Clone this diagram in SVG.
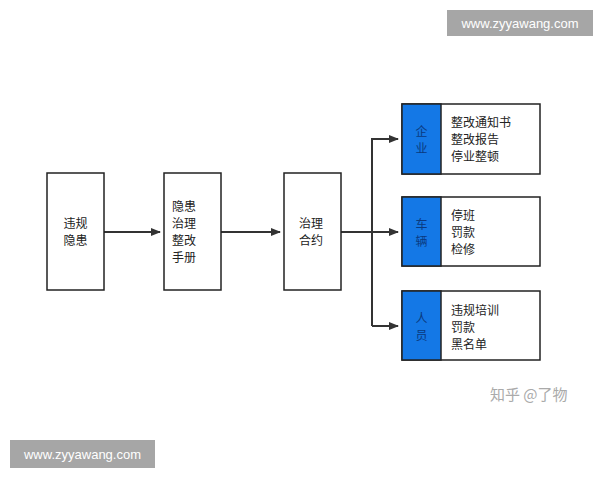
<svg xmlns="http://www.w3.org/2000/svg" width="600" height="480" viewBox="0 0 600 480">
<style>
.box{fill:#fff;stroke:#222;stroke-width:1.5}
.blue{fill:#1478e6;stroke:#222;stroke-width:1.5}
.t{font-family:"Noto Sans CJK SC",sans-serif;font-size:12px;fill:#222}
.bt{font-family:"Noto Sans CJK SC",sans-serif;font-size:12px;fill:#0a3a80}
.c{stroke:#333;stroke-width:2;fill:none}
.wm{font-family:"Liberation Sans",sans-serif;font-size:13px;fill:#fff}
</style>
<defs><marker id="a" markerWidth="10" markerHeight="8" refX="9" refY="4" orient="auto" markerUnits="userSpaceOnUse"><path d="M0,0L10,4L0,8z" fill="#333"/></marker></defs>
<rect width="600" height="480" fill="#fff"/>
<g id="connectors">
<path class="c" d="M104,232H160" marker-end="url(#a)"/>
<path class="c" d="M221,232H280" marker-end="url(#a)"/>
<path class="c" d="M341,232H398" marker-end="url(#a)"/>
<path class="c" d="M372,326V139H398" marker-end="url(#a)"/>
<path class="c" d="M372,326H398" marker-end="url(#a)"/>
</g>
<g id="n1"><rect class="box" x="47" y="173" width="57" height="117"/><text class="t" x="75.5" y="228" text-anchor="middle">违规</text><text class="t" x="75.5" y="245" text-anchor="middle">隐患</text></g>
<g id="n2"><rect class="box" x="164" y="173" width="57" height="117"/><text class="t" x="172" y="211">隐患</text><text class="t" x="172" y="228">治理</text><text class="t" x="172" y="245">整改</text><text class="t" x="172" y="262">手册</text></g>
<g id="n3"><rect class="box" x="284" y="173" width="57" height="117"/><text class="t" x="299" y="228">治理</text><text class="t" x="299" y="245">合约</text></g>
<g id="n4"><rect class="box" x="402" y="104" width="138" height="70"/><rect class="blue" x="402" y="104" width="39" height="70"/><text class="bt" x="421.5" y="136" text-anchor="middle">企</text><text class="bt" x="421.5" y="153" text-anchor="middle">业</text><text class="t" x="451" y="127">整改通知书</text><text class="t" x="451" y="144">整改报告</text><text class="t" x="451" y="161">停业整顿</text></g>
<g id="n5"><rect class="box" x="402" y="197" width="138" height="69"/><rect class="blue" x="402" y="197" width="39" height="69"/><text class="bt" x="421.5" y="229" text-anchor="middle">车</text><text class="bt" x="421.5" y="246" text-anchor="middle">辆</text><text class="t" x="451" y="220">停班</text><text class="t" x="451" y="237">罚款</text><text class="t" x="451" y="254">检修</text></g>
<g id="n6"><rect class="box" x="402" y="291" width="138" height="69"/><rect class="blue" x="402" y="291" width="39" height="69"/><text class="bt" x="421.5" y="323" text-anchor="middle">人</text><text class="bt" x="421.5" y="340" text-anchor="middle">员</text><text class="t" x="451" y="315">违规培训</text><text class="t" x="451" y="332">罚款</text><text class="t" x="451" y="349">黑名单</text></g>
<text x="490" y="400" font-family="Noto Sans CJK SC,sans-serif" font-size="15" fill="#aaa">知乎 @了物</text>
<rect x="447" y="10" width="146" height="26" fill="#a6a6a6"/><text class="wm" x="520" y="28" text-anchor="middle">www.zyyawang.com</text>
<rect x="10" y="440" width="145" height="28" fill="#a6a6a6"/><text class="wm" x="82.5" y="459" text-anchor="middle">www.zyyawang.com</text>
</svg>
